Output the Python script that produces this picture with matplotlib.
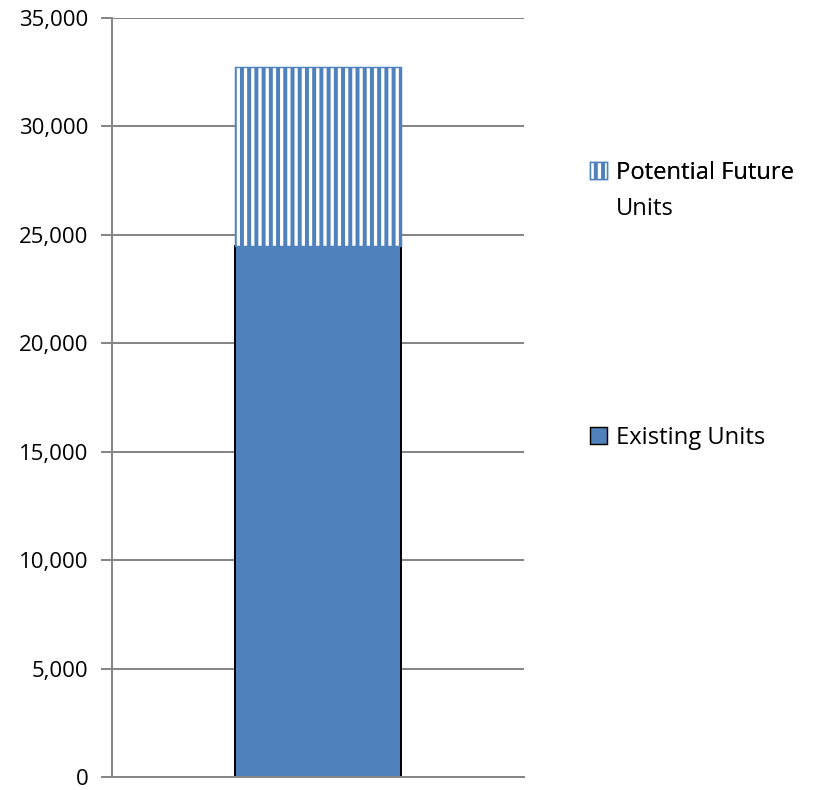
import matplotlib
matplotlib.use("Agg")
import matplotlib.pyplot as plt
from matplotlib.patches import Patch
from matplotlib.ticker import FuncFormatter

categories = [""]
existing_units = [24500]
potential_future_units = [8250]
yticks = [0, 5000, 10000, 15000, 20000, 25000, 30000, 35000]

DPI = 130
plt.rcParams['font.family'] = ['Open Sans', 'DejaVu Sans']
plt.rcParams['hatch.linewidth'] = 2.2
plt.rcParams['hatch.color'] = '#4F81BD'

fig = plt.figure(figsize=(831 / DPI, 790 / DPI), dpi=DPI)
ax = fig.add_axes([112 / 831, 1 - 777 / 790, (524 - 112) / 831, (777 - 18) / 790])

blue = '#4F81BD'
grid = '#868686'
x = [0]
ax.bar(x, existing_units, width=0.403, color=blue, edgecolor='black', linewidth=1.1, zorder=3)
ax.bar(x, potential_future_units, bottom=existing_units, width=0.403, facecolor='white',
       edgecolor=blue, hatch='|||', linewidth=0.8, zorder=3)

ax.set_xlim(-0.5, 0.5)
ax.set_ylim(0, 35000)
ax.set_yticks(yticks)
ax.yaxis.set_major_formatter(FuncFormatter(lambda v, p: f"{int(v):,}"))
ax.set_xticks([])
ax.yaxis.grid(True, color=grid, linewidth=1.1, zorder=0)
ax.set_axisbelow(True)
for s in ['top', 'right']:
    ax.spines[s].set_visible(False)
ax.spines['left'].set_color(grid)
ax.spines['left'].set_linewidth(1.1)
ax.spines['bottom'].set_color(grid)
ax.spines['bottom'].set_linewidth(1.1)
ax.spines['bottom'].set_zorder(4)
ax.tick_params(axis='y', length=6, width=1.1, color=grid, pad=7, labelsize=12.3, labelcolor='black')

h1 = Patch(facecolor='white', edgecolor=blue, hatch='|||', linewidth=0.8)
h2 = Patch(facecolor=blue, edgecolor='black', linewidth=0.8)
leg1 = fig.legend([h1], ["Potential Future"], loc='center left',
                  bbox_to_anchor=(590 / 831, 1 - 173 / 790), frameon=False, fontsize=13.2,
                  handlelength=0.7, handleheight=0.7, handletextpad=0.4, borderaxespad=0,
                  borderpad=0)
leg2 = fig.legend([h2], ["Existing Units"], loc='center left',
                  bbox_to_anchor=(590 / 831, 1 - 438 / 790), frameon=False, fontsize=13.2,
                  handlelength=0.7, handleheight=0.7, handletextpad=0.4, borderaxespad=0,
                  borderpad=0)
fig.add_artist(leg1)

fig.canvas.draw()
tb = leg1.get_texts()[0].get_window_extent()
fig.text(tb.x0 / (831), 1 - 209 / 790, "Units", fontsize=13.2, va='center', ha='left')

fig.savefig("out.png", dpi=DPI)
